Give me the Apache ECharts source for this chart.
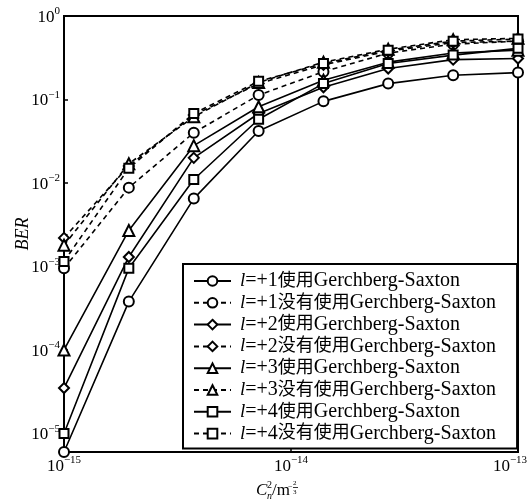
<!DOCTYPE html>
<html><head><meta charset="utf-8">
<script src="https://cdn.jsdelivr.net/npm/echarts@6/dist/echarts.min.js"></script>
<style>html,body{margin:0;padding:0;background:#fff}#c{width:532px;height:501px}</style>
</head><body><div id="c"></div>
<script>
// Cn^2 values (x)
const xValues = [1e-15, 1.93e-15, 3.73e-15, 7.2e-15, 1.39e-14, 2.68e-14, 5.18e-14, 1e-13];
const seriesNames = [
  'l=+1使用Gerchberg-Saxton', 'l=+1没有使用Gerchberg-Saxton',
  'l=+2使用Gerchberg-Saxton', 'l=+2没有使用Gerchberg-Saxton',
  'l=+3使用Gerchberg-Saxton', 'l=+3没有使用Gerchberg-Saxton',
  'l=+4使用Gerchberg-Saxton', 'l=+4没有使用Gerchberg-Saxton'
];
const l1GS   = [6e-6,   3.8e-4, 6.5e-3, 0.042, 0.095, 0.155, 0.195, 0.21];
const l1NoGS = [9.5e-4, 8.8e-3, 4.0e-2, 0.113, 0.215, 0.36,  0.46,  0.50];
const l2GS   = [3.5e-5, 1.3e-3, 2.0e-2, 0.068, 0.14,  0.235, 0.30,  0.31];
const l2NoGS = [2.2e-3, 1.6e-2, 6.5e-2, 0.155, 0.26,  0.38,  0.48,  0.50];
const l3GS   = [1.0e-4, 2.7e-3, 2.8e-2, 0.082, 0.17,  0.28,  0.36,  0.39];
const l3NoGS = [1.8e-3, 1.7e-2, 6.2e-2, 0.16,  0.28,  0.40,  0.52,  0.54];
const l4GS   = [1.0e-5, 9.5e-4, 1.1e-2, 0.058, 0.155, 0.27,  0.34,  0.41];
const l4NoGS = [1.15e-3,1.5e-2, 6.8e-2, 0.165, 0.27,  0.39,  0.50,  0.53];
const allData = [l1GS, l1NoGS, l2GS, l2NoGS, l3GS, l3NoGS, l4GS, l4NoGS];
const symbols = ['emptyCircle','emptyCircle','emptyDiamond','emptyDiamond','emptyTriangle','emptyTriangle','emptyRect','emptyRect'];
const xTickExponents = [-15, -14, -13];
const yTickExponents = [0, -1, -2, -3, -4, -5];

const SERIF = "'Liberation Serif','Times New Roman','Noto Sans CJK SC',serif";
const expRich = {
  b: {fontSize: 17, fontFamily: SERIF, color: '#000', lineHeight: 20, verticalAlign: 'bottom'},
  s: {fontSize: 11, fontFamily: SERIF, color: '#000', lineHeight: 12, verticalAlign: 'top'},
  p: {width: 16, fontSize: 11, lineHeight: 12}
};
function expLabel(v, allowed, padLast) {
  const e = Math.round(Math.log10(v));
  if (allowed.indexOf(e) < 0) return '';
  const es = e < 0 ? '−' + (-e) : String(e);
  const pad = (padLast && e === allowed[allowed.length - 1]) ? '{p|}' : '';
  return '{b|10}{s|' + es + '}' + pad;
}

const chart = echarts.init(document.getElementById('c'), null, {renderer: 'canvas'});
const series = allData.map((arr, i) => ({
  name: seriesNames[i],
  type: 'line',
  data: arr.map((v, k) => [xValues[k], v]),
  symbol: symbols[i],
  symbolSize: symbols[i] === 'emptyRect' ? 9 : (symbols[i] === 'emptyTriangle' ? 11 : 10),
  color: '#000',
  lineStyle: {color: '#000', width: 1.6, type: i % 2 === 1 ? [5, 4] : 'solid'},
  itemStyle: {color: '#000', borderColor: '#000', borderWidth: 1.6},
  animation: false,
  z: 3
}));

function legendFmt(name) {
  const m = name.match(/^(l)(=\+\d)([^A-Za-z]+)(.*)$/);
  return '{i|' + m[1] + '}{t|' + m[2] + '}{c|' + m[3] + '}{t|' + m[4] + '}';
}

chart.setOption({
  backgroundColor: '#fff',
  animation: false,
  grid: {left: 64, right: 14, top: 16, bottom: 49, show: true, borderColor: '#000', borderWidth: 2,
         backgroundColor: 'transparent', outerBoundsMode: 'none', containLabel: false},
  xAxis: {
    type: 'log', min: 1e-15, max: 1e-13,
    axisLine: {lineStyle: {color: '#000', width: 2}},
    axisTick: {inside: true, length: 4, lineStyle: {color: '#000', width: 1.5}},
    minorTick: {show: false},
    splitLine: {show: false},
    axisLabel: {margin: 3, formatter: v => expLabel(v, xTickExponents, true), rich: expRich}
  },
  yAxis: {
    type: 'log', min: 6e-6, max: 1,
    name: 'BER', nameLocation: 'middle', nameGap: 32, nameRotate: 90, nameMoveOverlap: false,
    nameTextStyle: {fontFamily: SERIF, fontStyle: 'italic', fontSize: 18, color: '#000'},
    axisLine: {lineStyle: {color: '#000', width: 2}},
    axisTick: {inside: true, length: 4, lineStyle: {color: '#000', width: 1.5}},
    splitLine: {show: false},
    axisLabel: {margin: 4, showMinLabel: false, formatter: v => expLabel(v, yTickExponents, false), rich: expRich}
  },
  legend: {
    orient: 'vertical', left: 183, top: 264,
    backgroundColor: '#fff', borderColor: '#000', borderWidth: 2,
    padding: [7, 21, 5, 10],
    itemWidth: 37, itemHeight: 12, itemGap: 1.8,
    data: seriesNames,
    textStyle: {fontFamily: SERIF, fontSize: 18, lineHeight: 18, color: '#000', padding: [0, 0, 0, 4],
      rich: {i: {fontFamily: SERIF, fontSize: 19, lineHeight: 18, fontStyle: 'italic', color: '#000'},
             t: {fontFamily: SERIF, fontSize: 20, lineHeight: 18, color: '#000'},
             c: {fontFamily: SERIF, fontSize: 18, lineHeight: 18, color: '#000'}}},
    formatter: legendFmt,
    z: 10
  },
  graphic: [
    {type: 'text', x: 256, y: 491, style: {text: 'C', font: "italic 17px " + SERIF, fill: '#000', verticalAlign: 'middle', align: 'left'}},
    {type: 'text', x: 267, y: 485, style: {text: '2', font: "10px " + SERIF, fill: '#000', verticalAlign: 'middle', align: 'left'}},
    {type: 'text', x: 267, y: 496, style: {text: 'n', font: "italic 10px " + SERIF, fill: '#000', verticalAlign: 'middle', align: 'left'}},
    {type: 'text', x: 272, y: 491, style: {text: '/m', font: "17px " + SERIF, fill: '#000', verticalAlign: 'middle', align: 'left'}},
    {type: 'text', x: 288, y: 487, style: {text: '−', font: "8px " + SERIF, fill: '#000', verticalAlign: 'middle', align: 'left'}},
    {type: 'text', x: 293, y: 483, style: {text: '2', font: "7px " + SERIF, fill: '#000', verticalAlign: 'middle', align: 'left'}},
    {type: 'line', shape: {x1: 293, y1: 487.5, x2: 298, y2: 487.5}, style: {stroke: '#000', lineWidth: 0.8}},
    {type: 'text', x: 293, y: 492, style: {text: '3', font: "7px " + SERIF, fill: '#000', verticalAlign: 'middle', align: 'left'}}
  ],
  series: series
});
</script></body></html>
